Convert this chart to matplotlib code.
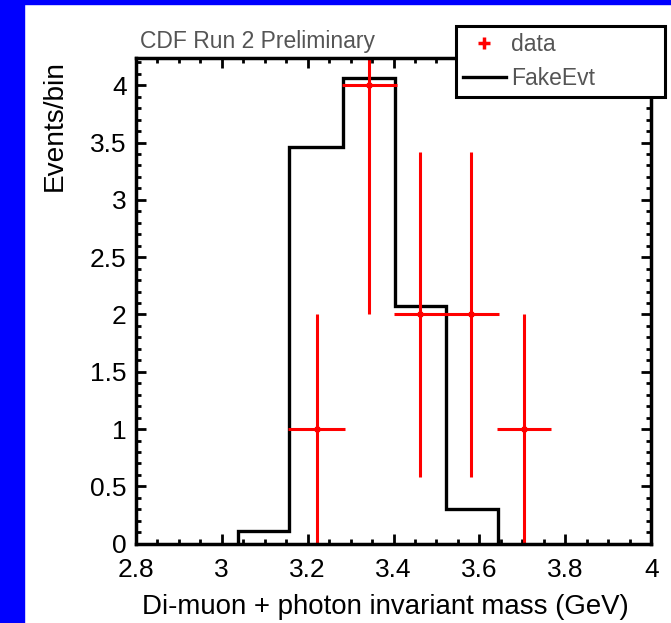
import numpy as np
import matplotlib
matplotlib.use("Agg")
import matplotlib.pyplot as plt
from matplotlib.lines import Line2D
from matplotlib.patches import Rectangle
from matplotlib.ticker import MultipleLocator

plt.rcParams['font.family'] = ['Liberation Sans', 'DejaVu Sans']

# FakeEvt histogram (bin edges in GeV, events per bin)
mc_edges = [3.037, 3.157, 3.282, 3.404, 3.523, 3.644]
mc_counts = [0.11, 3.46, 4.06, 2.07, 0.30]

# data points with Poisson errors
data_x = [3.221, 3.344, 3.462, 3.581, 3.703]
data_y = [1, 4, 2, 2, 1]
data_xerr = [0.067, 0.063, 0.061, 0.064, 0.063]
data_yerr = [1.0, 2.0, 1.414, 1.414, 1.0]

xticks = [2.8, 3.0, 3.2, 3.4, 3.6, 3.8, 4.0]
xticklabels = ['2.8', '3', '3.2', '3.4', '3.6', '3.8', '4']
yticks = [0, 0.5, 1, 1.5, 2, 2.5, 3, 3.5, 4]
yticklabels = ['0', '0.5', '1', '1.5', '2', '2.5', '3', '3.5', '4']

fig = plt.figure(figsize=(6.71, 6.23), dpi=100)
fig.patch.set_facecolor('white')
# blue frame of the original slide
fig.patches.append(Rectangle((0, 0), 24 / 671, 1, transform=fig.transFigure,
                             color='#0000ff', zorder=0))
fig.patches.append(Rectangle((0, 1 - 4 / 623), 1, 4 / 623, transform=fig.transFigure,
                             color='#0000ff', zorder=0))

ax = fig.add_axes([135.7 / 671, 1 - 543.7 / 623, 515.6 / 671, 486 / 623])

ax.stairs(mc_counts, mc_edges, color='black', lw=2.4, baseline=0)
ax.errorbar(data_x, data_y, xerr=data_xerr, yerr=data_yerr, fmt='s', ms=3,
            color='red', ecolor='red', elinewidth=2.2, capsize=0)

ax.set_xticks(xticks)
ax.set_xticklabels(xticklabels)
ax.set_yticks(yticks)
ax.set_yticklabels(yticklabels)
ax.xaxis.set_minor_locator(MultipleLocator(0.05))
ax.yaxis.set_minor_locator(MultipleLocator(0.1))
ax.set_xlim(2.8, 4.0)
ax.set_ylim(0, 4.24)

ax.tick_params(which='both', direction='in', top=True, right=True, width=2, color='black')
ax.tick_params(which='major', length=7)
ax.tick_params(which='minor', length=3.5)
ax.tick_params(axis='x', which='major', labelsize=19, pad=10)
ax.tick_params(axis='y', which='major', labelsize=19, pad=6.5)
for sp in ax.spines.values():
    sp.set_linewidth(2.5)

ax.set_xlabel('Di-muon + photon invariant mass (GeV)', fontsize=19.9)
ax.xaxis.set_label_coords(0.4835, -0.104)
ax.set_ylabel('Events/bin', fontsize=20.2, loc='top')
ax.yaxis.set_label_coords(-0.131, 0.995)

ax.text(0.008, 1.019, 'CDF Run 2 Preliminary', transform=ax.transAxes,
        fontsize=16.5, color='#555555', va='baseline', ha='left')

handles = [Line2D([], [], color='red', marker='+', ms=9, mew=2.5, ls='none'),
           Line2D([], [], color='black', lw=2.4)]
leg = fig.legend(handles, ['data', 'FakeEvt'], loc='upper left',
                 bbox_to_anchor=(456 / 671, 1 - 26 / 623, 209 / 671, 0),
                 mode='expand', borderaxespad=0, fontsize=16.5,
                 fancybox=False, framealpha=1, edgecolor='black',
                 borderpad=0.3, labelspacing=0.5, handlelength=1.87,
                 handletextpad=0.25)
leg.get_frame().set_linewidth(2.2)
for t in leg.get_texts():
    t.set_color('#555555')

fig.savefig('out.png', dpi=100)
